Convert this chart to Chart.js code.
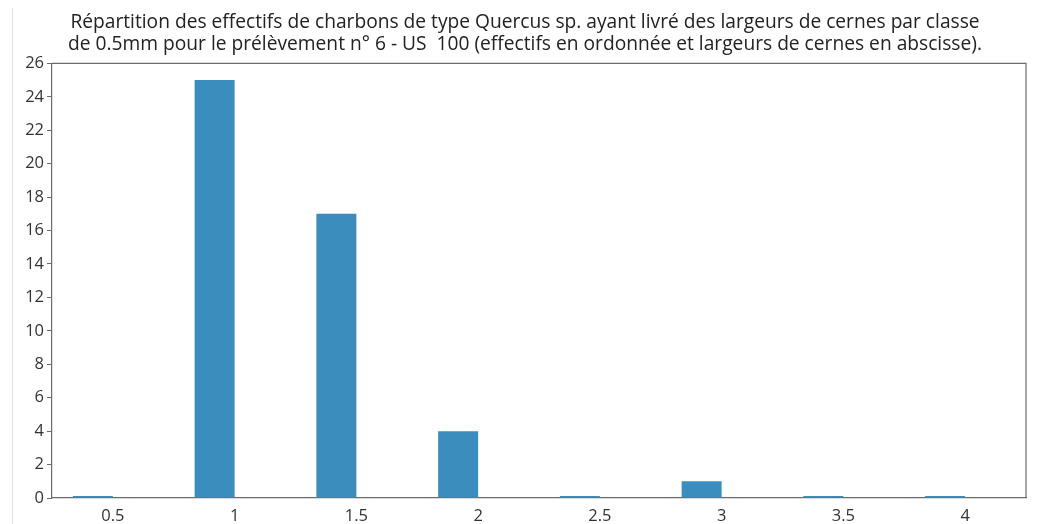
<!DOCTYPE html>
<html>
<head>
<meta charset="utf-8">
<script src="https://cdn.jsdelivr.net/npm/chart.js@4/dist/chart.umd.min.js"></script>
<style>
  html, body { margin: 0; padding: 0; background: #fff; }
  #wrap { position: relative; width: 1038px; height: 524px; }
  #edge { position: absolute; left: 12px; top: 8px; width: 1px; height: 516px; background: #e2e2e2; }
  canvas { position: absolute; left: 0; top: 0; }
</style>
</head>
<body>
<div id="wrap">
  <div id="edge"></div>
  <canvas id="c" width="1038" height="524"></canvas>
</div>
<script>
// Ring-width classes (mm) and number of charcoal fragments in each
const classes = ['0.5', '1', '1.5', '2', '2.5', '3', '3.5', '4'];
const counts = [0, 25, 17, 4, 0, 1, 0, 0];
const yTicks = [0, 2, 4, 6, 8, 10, 12, 14, 16, 18, 20, 22, 24, 26];
const titleLines = [
  'Répartition des effectifs de charbons de type Quercus sp. ayant livré des largeurs de cernes par classe',
  'de 0.5mm pour le prélèvement n° 6 - US  100 (effectifs en ordonnée et largeurs de cernes en abscisse).'
];

const FONT = '"Open Sans", Lato, sans-serif';

// Closes the plot box on the top and right sides
const frame = {
  id: 'frame',
  afterDraw(chart) {
    const { ctx, chartArea: a } = chart;
    ctx.save();
    ctx.strokeStyle = '#6b6b6b';
    ctx.lineWidth = 1.2;
    ctx.beginPath();
    ctx.moveTo(a.left, a.top);
    ctx.lineTo(a.right, a.top);
    ctx.lineTo(a.right, a.bottom);
    ctx.stroke();
    ctx.restore();
  }
};

new Chart(document.getElementById('c'), {
  type: 'bar',
  data: {
    labels: classes,
    datasets: [
      {
        data: counts,
        backgroundColor: '#3a8dbc',
        borderWidth: 0,
        minBarLength: 2
      },
      {
        // empty companion series so each bar ends on its class tick
        data: classes.map(() => null),
        backgroundColor: 'rgba(0,0,0,0)'
      }
    ]
  },
  options: {
    responsive: false,
    animation: false,
    layout: { padding: { left: 24, right: 12, top: 0, bottom: 0 } },
    datasets: { bar: { barPercentage: 1, categoryPercentage: 0.657 } },
    plugins: {
      legend: { display: false },
      tooltip: { enabled: false },
      title: {
        display: true,
        text: titleLines,
        color: '#222',
        font: { family: FONT, size: 19.2, weight: 'normal', lineHeight: 1.13 },
        padding: { top: 12, bottom: 8 }
      }
    },
    scales: {
      x: {
        offset: true,
        grid: { display: false },
        border: { display: true, color: '#6b6b6b', width: 1.2 },
        ticks: { color: '#333', font: { family: FONT, size: 16.5 }, padding: 0, maxRotation: 0 },
        afterFit(s) { s.height = 26; }
      },
      y: {
        min: 0,
        max: 26,
        afterBuildTicks(s) { s.ticks = yTicks.map(v => ({ value: v })); },
        grid: { drawOnChartArea: false, drawTicks: true, tickLength: 5, color: '#6b6b6b' },
        border: { display: true, color: '#6b6b6b', width: 1.2 },
        ticks: { color: '#333', font: { family: FONT, size: 16.5 }, padding: 3 },
        afterFit(s) { s.width = 28; }
      }
    }
  },
  plugins: [frame]
});
</script>
</body>
</html>
